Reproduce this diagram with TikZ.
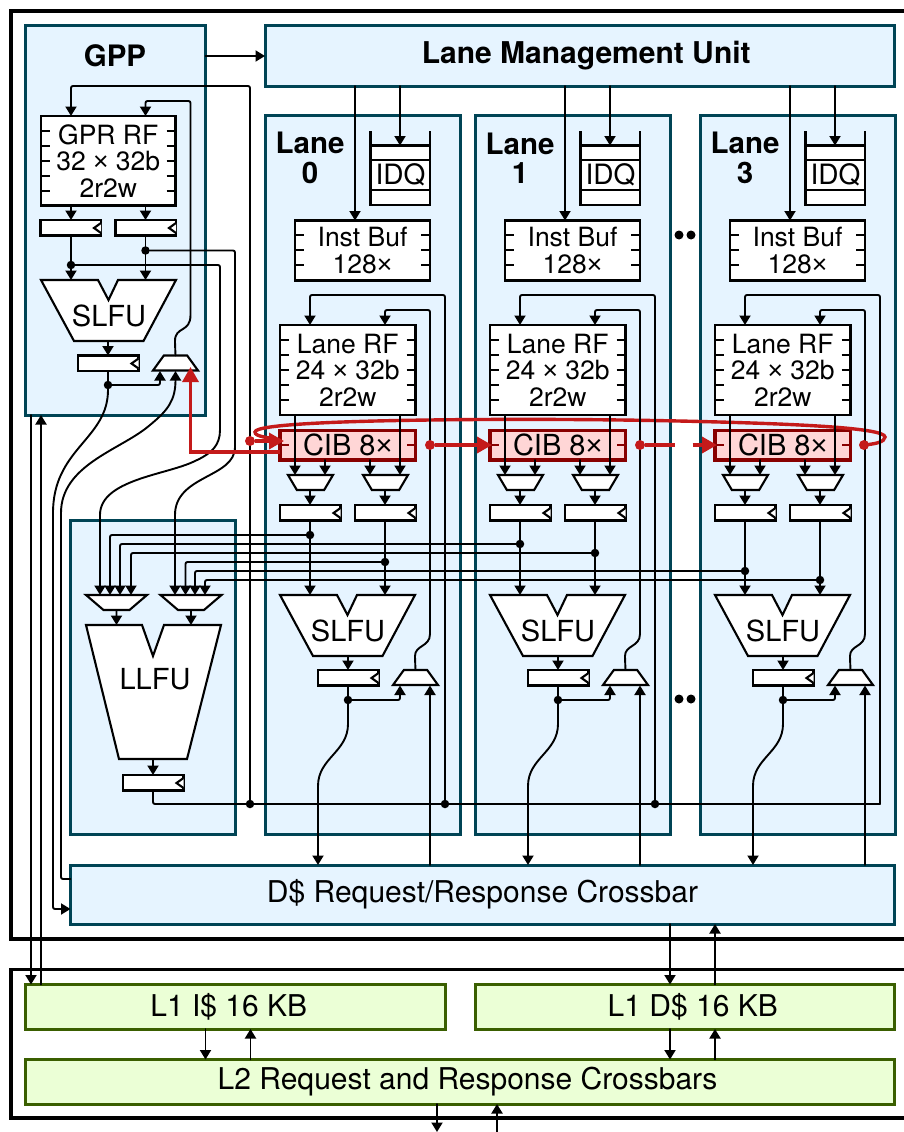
\documentclass[tikz,border=0pt]{standalone}
\usepackage{fontspec}
\setmainfont{TeX Gyre Heros}
\newfontfamily\libfont{Liberation Sans}
\usetikzlibrary{arrows.meta,shapes.geometric}
\definecolor{boxblue}{HTML}{E6F4FF}
\definecolor{edgeblue}{HTML}{004455}
\definecolor{boxgreen}{HTML}{EBFFD6}
\definecolor{edgegreen}{HTML}{3A5F00}
\definecolor{cibfill}{HTML}{FFD6D6}
\definecolor{cibedge}{HTML}{880000}
\definecolor{redw}{HTML}{C41A1A}
\newcommand\fs[1]{\fontsize{#1}{#1}\selectfont}
\newcommand\ph{\phantom{\rule{1pt}{1pt}}}
\newcommand\tm{{\libfont ×}}
\tikzset{
  frameline/.style={draw=black,line width=3.6pt},
  bluebox/.style={draw=edgeblue,fill=boxblue,line width=3pt,inner sep=0pt,outer sep=0pt,align=center,font=\fs{30}},
  greenbox/.style={draw=edgegreen,fill=boxgreen,line width=3pt,inner sep=0pt,outer sep=0pt,align=center,font=\fs{30}},
  comp/.style={draw=black,fill=white,line width=2.1pt,inner sep=0pt,outer sep=0pt,align=center,font=\fs{26.5}},
  cibbox/.style={draw=cibedge,fill=cibfill,line width=3.4pt,inner sep=0pt,outer sep=0pt,align=center,font=\fs{29}},
  wire/.style={draw=black,line width=1.9pt,line cap=round,rounded corners=2pt},
  arr/.style={wire,-{Triangle[width=11pt,length=9.5pt]}},
  tick/.style={draw=black,line width=1.5pt},
  dotn/.style={circle,fill=black,inner sep=0pt,outer sep=0pt,minimum size=8.5pt},
  reddot/.style={circle,fill=redw,inner sep=0pt,outer sep=0pt,minimum size=10pt},
  redw/.style={draw=redw,line width=3.4pt},
  redarr/.style={redw,-{Triangle[width=16pt,length=15pt]}},
  muxd/.style={comp,trapezium,trapezium stretches=true,shape border rotate=180,minimum height=15pt},
  muxu/.style={comp,trapezium,trapezium stretches=true,minimum height=15pt,minimum width=45pt,trapezium left angle=65,trapezium right angle=65},
  lbl/.style={inner sep=0pt,outer sep=0pt,align=center,font=\fs{29}},
  lblb/.style={inner sep=0pt,outer sep=0pt,align=center,font=\fs{29.5}\bfseries}
}
% name, style, x1, y1, x2, y2, text
\newcommand\Bx[7]{\pgfmathsetmacro\bw{#5-#3}\pgfmathsetmacro\bh{#6-#4}%
  \node[#2,minimum width=\bw pt,minimum height=\bh pt] (#1) at ({(#3+#5)/2},{(#4+#6)/2}) {#7};}
% register: name, x1, y1
\newcommand\Rg[3]{\pgfmathsetmacro\rgx{#2+60.5}\pgfmathsetmacro\rgy{#3+8}%
  \Bx{#1}{comp}{#2}{#3}{\rgx}{#3+15.5}{}%
  \draw[comp] (\rgx,#3+3) -- (\rgx-7,\rgy) -- (\rgx,#3+13);}
% ticks: x1, x2, list of y
\newcommand\Tk[3]{\foreach \ty in {#3}{\draw[tick] (#1,\ty) -- (#1+9,\ty) (#2-9,\ty) -- (#2,\ty);}}
% SLFU polygon: x, y
\newcommand\Fu[2]{\draw[comp,shift={(#1,#2)}] (0,0) -- (57,0) -- (67.5,20) -- (77,0) -- (135,0) -- (102.5,61) -- (33,61) -- cycle;}
\begin{document}
\begin{tikzpicture}[x=1pt,y=-1pt]
\useasboundingbox (0,0) rectangle (904,1132);
\fill[white] (0,0) rectangle (904,1132);
% frames
\draw[frameline] (904,11) -- (11,11) -- (11,939) -- (904,939);
\draw[frameline] (904,969.5) -- (11,969.5) -- (11,1118) -- (904,1118);
% blue blocks
\Bx{gpp}{bluebox}{25}{26}{205.5}{415}{}
\node[lblb] (gpplabel) at (115,56) {GPP};
\Bx{lmu}{bluebox}{265}{26}{894.5}{86}{\hspace*{13pt}\fs{30}\bfseries Lane Management Unit}
\Bx{llfub}{bluebox}{70.5}{520}{235.5}{834}{}
\Bx{xbar}{bluebox}{70.5}{865}{894.5}{924}{D\$ Request/Response Crossbar}
\Bx{li}{greenbox}{25.5}{984.5}{445}{1029}{L1 I\$ 16 KB\hspace*{13pt}}
\Bx{ld}{greenbox}{475}{984.5}{894.5}{1029}{\hspace*{16pt}L1 D\$ 16 KB}
\Bx{ltwo}{greenbox}{25.5}{1059.5}{894.5}{1104}{}
\node[lbl,font=\fs{30}] (ltwot) at (467.5,1082) {L2 Request and Response Crossbars};
% GPP internals
\Bx{gpr}{comp}{41}{116}{175.5}{205.5}{GPR RF\\32 \tm\ 32b\\2r2w}
\Tk{41}{175.5}{131,146,161,176,191}
\Rg{ga}{40.5}{220}
\Rg{gb}{115.5}{220}
\Fu{41}{280}
\node[lbl] (gslfu) at (109,315.5) {SLFU};
\Rg{gc}{78}{355.5}
\node[muxu] (gm) at (175.5,363) {\ph};
% LLFU internals
\node[muxd,minimum width=61pt,trapezium left angle=56,trapezium right angle=56] (la) at (116.5,602.5) {\ph};
\node[muxd,minimum width=61pt,trapezium left angle=56,trapezium right angle=56] (lb) at (191,602.5) {\ph};
\draw[comp] (86,625) -- (142,625) -- (153,656) -- (164,625) -- (221,625) -- (187,759) -- (119,759) -- cycle;
\node[lbl] (llfut) at (155,679) {LLFU};
\Rg{lc}{123}{775}
% lanes: boxes and components
\foreach \d/\n/\ya/\yb in {0/0/535/562,210/1/544/553,435/3/571/580}{
\begin{scope}[xshift=\d pt]
  \Bx{lane\n}{bluebox}{265}{115.5}{460}{834}{}
  \node[lblb] (lanet\n) at (310,158) {Lane\\\n};
  \Bx{idq\n}{comp}{370.5}{145.5}{430}{205}{}
  \node[lbl,font=\fs{28}] (idqt\n) at (400.5,175) {IDQ};
  \draw[comp] (370.5,131) -- (370.5,145.5) (430,131) -- (430,145.5) (370.5,160) -- (430,160) (370.5,190) -- (430,190);
  \Bx{ib\n}{comp}{295}{220.5}{430}{280.5}{Inst Buf\\128\tm}
  \Tk{295}{430}{235,250,265}
  \Bx{rf\n}{comp}{280}{325}{415.5}{415}{Lane RF\\24 \tm\ 32b\\2r2w}
  \Tk{280}{415.5}{340,355,370,385,400}
  \Bx{cib\n}{cibbox}{280}{430.5}{415.5}{460}{CIB 8\tm}
  \draw[draw=cibedge,line width=1.5pt] (281,445) -- (289,445) (407,445) -- (415,445);
  \node[muxd,minimum width=45pt,trapezium left angle=72,trapezium right angle=72] (ma\n) at (310.5,482.5) {\ph};
  \node[muxd,minimum width=45pt,trapezium left angle=72,trapezium right angle=72] (mb\n) at (385.5,482.5) {\ph};
  \Rg{ra\n}{280}{505}
  \Rg{rb\n}{355}{505}
  \Fu{280}{595}
  \node[lbl] (slfu\n) at (348,631) {SLFU};
  \Rg{rc\n}{318}{670}
  \node[muxu] (mc\n) at (415.5,677.5) {\ph};
\end{scope}
}
% red loop below the wires
\coordinate (loopR) at (864,445);
\draw[redw,line cap=round] (loopR) .. controls (875,444) and (885,442) .. (885,437)
  .. controls (885,428) and (800,424) .. (700,421.5)
  .. controls (600,419) and (500,419) .. (430,420)
  .. controls (350,421) and (255,424) .. (255,432)
  .. controls (255,437) and (268,437) .. (280,440.5);
% lane wiring
\foreach \d/\n/\ya/\yb in {0/0/535/562,210/1/544/553,435/3/571/580}{
\begin{scope}[xshift=\d pt]
  \coordinate (ibi\n) at (355,220.5);
  \coordinate (idi\n) at (400,145.5);
  \draw[arr] (lmu.south -| ibi\n) -- (ibi\n);
  \draw[arr] (lmu.south -| idi\n) -- (idi\n);
  \coordinate (bus\n) at (445,804);
  \coordinate (rfia\n) at (310,325);
  \coordinate (rfib\n) at (385,325);
  \draw[arr] (bus\n) -- (445,295) -| (rfia\n);
  \draw[arr] (mc\n.north) -- (415,658) .. controls (415,645) and (430,647) .. (430,632) -- (430,310) -| (rfib\n);
  \coordinate (pa\n) at (295,475);
  \coordinate (pb\n) at (325,475);
  \coordinate (pc\n) at (370,475);
  \coordinate (pd\n) at (400,475);
  \draw[arr] (pa\n |- rf\n.south) -- (pa\n);
  \draw[arr] (pd\n |- rf\n.south) -- (pd\n);
  \draw[arr] (pb\n |- cib\n.south) -- (pb\n);
  \draw[arr] (pc\n |- cib\n.south) -- (pc\n);
  \coordinate (qa\n) at (310,505);
  \coordinate (qb\n) at (385,505);
  \draw[arr] (qa\n |- ma\n.south) -- (qa\n);
  \draw[arr] (qb\n |- mb\n.south) -- (qb\n);
  \coordinate (fa\n) at (310,595);
  \coordinate (fb\n) at (385,595);
  \node[dotn] (da\n) at (310,\ya) {};
  \node[dotn] (db\n) at (385,\yb) {};
  \draw[arr] (fa\n |- ra\n.south) -- (fa\n);
  \draw[arr] (fb\n |- rb\n.south) -- (fb\n);
  \coordinate (sa\n) at (348,656);
  \coordinate (sb\n) at (348,670);
  \draw[arr] (sa\n) -- (sb\n);
  \node[dotn] (dc\n) at (348,700) {};
  \draw[wire] (sb\n |- rc\n.south) -- (dc\n);
  \coordinate (mi\n) at (400,685.5);
  \coordinate (mj\n) at (430,685.5);
  \draw[arr] (dc\n) -| (mi\n);
  \draw[arr] (mj\n |- xbar.north) -- (mj\n);
  \coordinate (xi\n) at (318,865);
  \draw[arr] (dc\n) -- (348,722) .. controls (348,752) and (318,758) .. (318,788) -- (xi\n);
\end{scope}
}
% LLFU mux inputs and output bus
\coordinate (ia) at (100,595);
\coordinate (ib) at (110,595);
\coordinate (ic) at (120,595);
\coordinate (id) at (131,595);
\coordinate (ie) at (175,595);
\coordinate (if) at (185.5,595);
\coordinate (ig) at (195,595);
\coordinate (ih) at (205,595);
\draw[arr] (da0) -| (ib);
\draw[arr] (da1) -| (ic);
\draw[arr] (db1) -| (id);
\draw[arr] (db0) -| (if);
\draw[arr] (da3) -| (ig);
\draw[arr] (db3) -| (ih);
\coordinate (lo) at (116.5,625);
\coordinate (lp) at (191,625);
\draw[arr] (la.south) -- (lo);
\draw[arr] (lb.south) -- (lp);
\coordinate (lq) at (153,759);
\coordinate (lr) at (153,775);
\draw[arr] (lq) -- (lr);
\draw[wire] (lr |- lc.south) |- (bus3);
\node[dotn] (dbg) at (250,804) {};
\node[dotn] (db0b) at (bus0) {};
\node[dotn] (db1b) at (bus1) {};
% GPP wiring
\coordinate (gl) at (205.5,56);
\draw[arr] (gl) -- (gl -| lmu.west);
\coordinate (gi) at (71,116);
\coordinate (gj) at (145.5,116);
\draw[arr] (dbg) -- (250,86) -| (gi);
\draw[arr] (gm.north) -- (175,343) .. controls (175,326) and (190.5,333) .. (190.5,313) -- (190.5,101) -| (gj);
\coordinate (gk) at (71,220);
\coordinate (gn) at (145.5,220);
\draw[arr] (gk |- gpr.south) -- (gk);
\draw[arr] (gn |- gpr.south) -- (gn);
\coordinate (go) at (71,280);
\coordinate (gp) at (145.5,280);
\node[dotn] (gd) at (71,265) {};
\node[dotn] (ge) at (145.5,250.5) {};
\draw[arr] (go |- ga.south) -- (go);
\draw[arr] (gp |- gb.south) -- (gp);
\draw[arr] (gd) -- (220,265) -- (220,428) .. controls (220,445) and (212,453) .. (195,461)
  .. controls (165,475) and (100,480) .. (100,517) -- (ia);
\draw[arr] (ge) -- (235,250.5) -- (235,445) .. controls (235,478) and (175,475) .. (175,517) -- (ie);
\coordinate (gq) at (108,341);
\coordinate (gr) at (108,355.5);
\draw[arr] (gq) -- (gr);
\node[dotn] (gf) at (108,385) {};
\draw[wire] (gr |- gc.south) -- (gf);
\coordinate (gs) at (160,371);
\coordinate (gt) at (175.5,371);
\draw[arr] (gf) -| (gs);
\coordinate (xa) at (70.5,909);
\coordinate (xb) at (70.5,879);
\draw[arr] (gf) -- (108,392) .. controls (105,440) and (53,450) .. (53,515) -- (53,909) -- (xa);
\draw[arr] (xb) -- (61,879) -- (61,515) .. controls (61,465) and (120,450) .. (150,425)
  .. controls (168,410) and (175.5,400) .. (gt);
% GPP <-> L1 I$
\coordinate (ua) at (31,415);
\coordinate (ub) at (31,984.5);
\coordinate (uc) at (41,984.5);
\coordinate (ud) at (41,415);
\draw[arr] (ua) -- (ub);
\draw[arr] (uc) -- (ud);
% D$ crossbar <-> L1 D$, L1 <-> L2, L2 <-> outside
\coordinate (va) at (670,984.5);
\coordinate (vb) at (715,924);
\draw[arr] (va |- xbar.south) -- (va);
\draw[arr] (vb |- ld.north) -- (vb);
\coordinate (vc) at (670,1059.5);
\coordinate (vd) at (715,1029);
\draw[arr] (vc |- ld.south) -- (vc);
\draw[arr] (vd |- ltwo.north) -- (vd);
\coordinate (ve) at (205.5,1059.5);
\coordinate (vf) at (250.5,1029);
\draw[arr] (ve |- li.south) -- (ve);
\draw[arr] (vf |- ltwo.north) -- (vf);
\coordinate (vg) at (437,1132);
\coordinate (vh) at (497,1132);
\coordinate (vi) at (497,1104);
\draw[arr] (vg |- ltwo.south) -- (vg);
\draw[arr] (vh) -- (vi);
% ellipsis dots
\node[dotn,minimum size=9pt] (e1) at (679,235) {};
\node[dotn,minimum size=9pt] (e2) at (691,235) {};
\node[dotn,minimum size=9pt] (e3) at (679,699) {};
\node[dotn,minimum size=9pt] (e4) at (691,699) {};
% red signal paths
\coordinate (ca) at (284,441);
\node[reddot] (r0) at (250,441) {};
\draw[redarr] (r0) -- (ca);
\node[reddot] (r1) at (430,445) {};
\coordinate (cb) at (492,445);
\draw[redarr] (r1) -- (cb);
\node[reddot] (r2) at (640,445) {};
\coordinate (cc) at (675,445);
\coordinate (cd) at (692.5,445);
\coordinate (ce) at (717,445);
\draw[redw] (r2) -- (cc);
\draw[redarr] (cd) -- (ce);
\node[reddot] (r3) at (loopR) {};
\coordinate (cf) at (190.5,367);
\draw[redarr] (cib0.west |- 0,452) -| (cf);
\end{tikzpicture}
\end{document}
